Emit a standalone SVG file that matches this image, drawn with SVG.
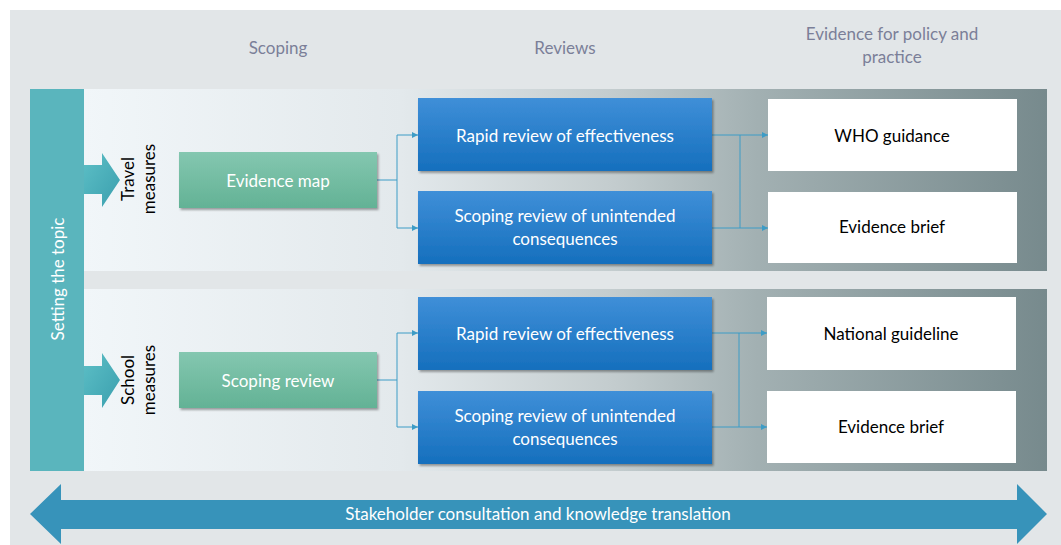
<svg xmlns="http://www.w3.org/2000/svg" width="1061" height="545" viewBox="0 0 1061 545">
<defs>
<linearGradient id="band" x1="84" y1="0" x2="1047" y2="0" gradientUnits="userSpaceOnUse">
<stop offset="0" stop-color="#f1f6f9"/>
<stop offset="0.33" stop-color="#e3e9ec"/>
<stop offset="0.55" stop-color="#c3ccce"/>
<stop offset="0.7" stop-color="#a2b0b2"/>
<stop offset="1" stop-color="#778a8d"/>
</linearGradient>
<linearGradient id="blue" x1="0" y1="0" x2="0" y2="1">
<stop offset="0" stop-color="#3f8fd8"/>
<stop offset="1" stop-color="#156fbd"/>
</linearGradient>
<linearGradient id="green" x1="0" y1="0" x2="0" y2="1">
<stop offset="0" stop-color="#84c7b0"/>
<stop offset="1" stop-color="#63b295"/>
</linearGradient>
<linearGradient id="tealArrow" x1="0" y1="0" x2="1" y2="1">
<stop offset="0" stop-color="#5dbfc6"/>
<stop offset="1" stop-color="#3a9fae"/>
</linearGradient>
<filter id="sh" x="-10%" y="-10%" width="120%" height="130%">
<feDropShadow dx="1.5" dy="2" stdDeviation="1.2" flood-color="#000" flood-opacity="0.35"/>
</filter>
<marker id="ah" viewBox="0 0 10 10" refX="10" refY="5" markerWidth="6" markerHeight="6" markerUnits="userSpaceOnUse" orient="auto">
<path d="M0,0 L10,5 L0,10 z" fill="#3d9cc6"/>
</marker>
<style>
.hd{font-family:"Lato","Liberation Sans",sans-serif;font-size:17px;fill:#7b7f98;text-anchor:middle}
.wt{font-family:"Lato","Liberation Sans",sans-serif;font-size:17px;fill:#ffffff;text-anchor:middle;dominant-baseline:central}
.bk{font-family:"Lato","Liberation Sans",sans-serif;font-size:17px;fill:#000000;text-anchor:middle;dominant-baseline:central}
.con{fill:none;stroke:#3d9cc6;stroke-width:1}
</style>
</defs>
<rect x="10" y="10" width="1051" height="535" fill="#e2e6e8"/>
<text class="hd" x="278" y="54">Scoping</text>
<text class="hd" x="565" y="54">Reviews</text>
<text class="hd" x="892" y="40">Evidence for policy and</text>
<text class="hd" x="892" y="63">practice</text>

<rect x="84" y="89" width="963" height="182" fill="url(#band)"/>
<rect x="84" y="289" width="963" height="182" fill="url(#band)"/>

<g id="setting-topic">
<rect x="30" y="89" width="54" height="382" fill="#5ab5bd"/>
<text class="wt" transform="translate(57,279) rotate(-90)">Setting the topic</text>
</g>

<g id="travel-arrow">
<path d="M84,165 L102,165 L102,153 L120,180 L102,207 L102,194 L84,194 z" fill="url(#tealArrow)"/>
<text class="bk" transform="translate(127,179) rotate(-90)">Travel</text>
<text class="bk" transform="translate(148,179) rotate(-90)">measures</text>
</g>
<g id="school-arrow">
<path d="M84,366 L102,366 L102,353 L120,380 L102,408 L102,395 L84,395 z" fill="url(#tealArrow)"/>
<text class="bk" transform="translate(127,380) rotate(-90)">School</text>
<text class="bk" transform="translate(148,380) rotate(-90)">measures</text>
</g>

<g id="connectors">
<path class="con" d="M377,180 H397 V135 H418" marker-end="url(#ah)"/>
<path class="con" d="M397,180 V228 H418" marker-end="url(#ah)"/>
<path class="con" d="M712,135 H768" marker-end="url(#ah)"/>
<path class="con" d="M712,228 H768" marker-end="url(#ah)"/>
<path class="con" d="M740,135 V228"/>
<path class="con" d="M377,380 H397 V333 H418" marker-end="url(#ah)"/>
<path class="con" d="M397,380 V427 H418" marker-end="url(#ah)"/>
<path class="con" d="M712,333 H767" marker-end="url(#ah)"/>
<path class="con" d="M712,427 H767" marker-end="url(#ah)"/>
<path class="con" d="M739,333 V427"/>
</g>

<g id="evidence-map">
<rect x="179" y="152" width="198" height="56" fill="url(#green)" filter="url(#sh)"/>
<text class="wt" x="278" y="180">Evidence map</text>
</g>
<g id="rapid-1">
<rect x="418" y="98" width="294" height="73" fill="url(#blue)" filter="url(#sh)"/>
<text class="wt" x="565" y="135">Rapid review of effectiveness</text>
</g>
<g id="scoping-unint-1">
<rect x="418" y="191" width="294" height="73" fill="url(#blue)" filter="url(#sh)"/>
<text class="wt" x="565" y="215">Scoping review of unintended</text>
<text class="wt" x="565" y="238">consequences</text>
</g>
<g id="who-guidance">
<rect x="768" y="99" width="249" height="72" fill="#ffffff"/>
<text class="bk" x="892" y="135">WHO guidance</text>
</g>
<g id="evidence-brief-1">
<rect x="768" y="192" width="249" height="71" fill="#ffffff"/>
<text class="bk" x="892" y="226">Evidence brief</text>
</g>

<g id="scoping-review">
<rect x="179" y="352" width="198" height="56" fill="url(#green)" filter="url(#sh)"/>
<text class="wt" x="278" y="380">Scoping review</text>
</g>
<g id="rapid-2">
<rect x="418" y="297" width="294" height="73" fill="url(#blue)" filter="url(#sh)"/>
<text class="wt" x="565" y="333">Rapid review of effectiveness</text>
</g>
<g id="scoping-unint-2">
<rect x="418" y="391" width="294" height="73" fill="url(#blue)" filter="url(#sh)"/>
<text class="wt" x="565" y="415">Scoping review of unintended</text>
<text class="wt" x="565" y="438">consequences</text>
</g>
<g id="national-guideline">
<rect x="767" y="297" width="249" height="73" fill="#ffffff"/>
<text class="bk" x="891" y="333">National guideline</text>
</g>
<g id="evidence-brief-2">
<rect x="767" y="391" width="249" height="72" fill="#ffffff"/>
<text class="bk" x="891" y="426">Evidence brief</text>
</g>

<g id="stakeholder-arrow">
<path d="M30,514 L61,484 L61,500 L1017,500 L1017,484 L1047,514 L1017,544 L1017,529 L61,529 L61,544 z" fill="#3793ba"/>
<text class="wt" x="538" y="513">Stakeholder consultation and knowledge translation</text>
</g>
</svg>
